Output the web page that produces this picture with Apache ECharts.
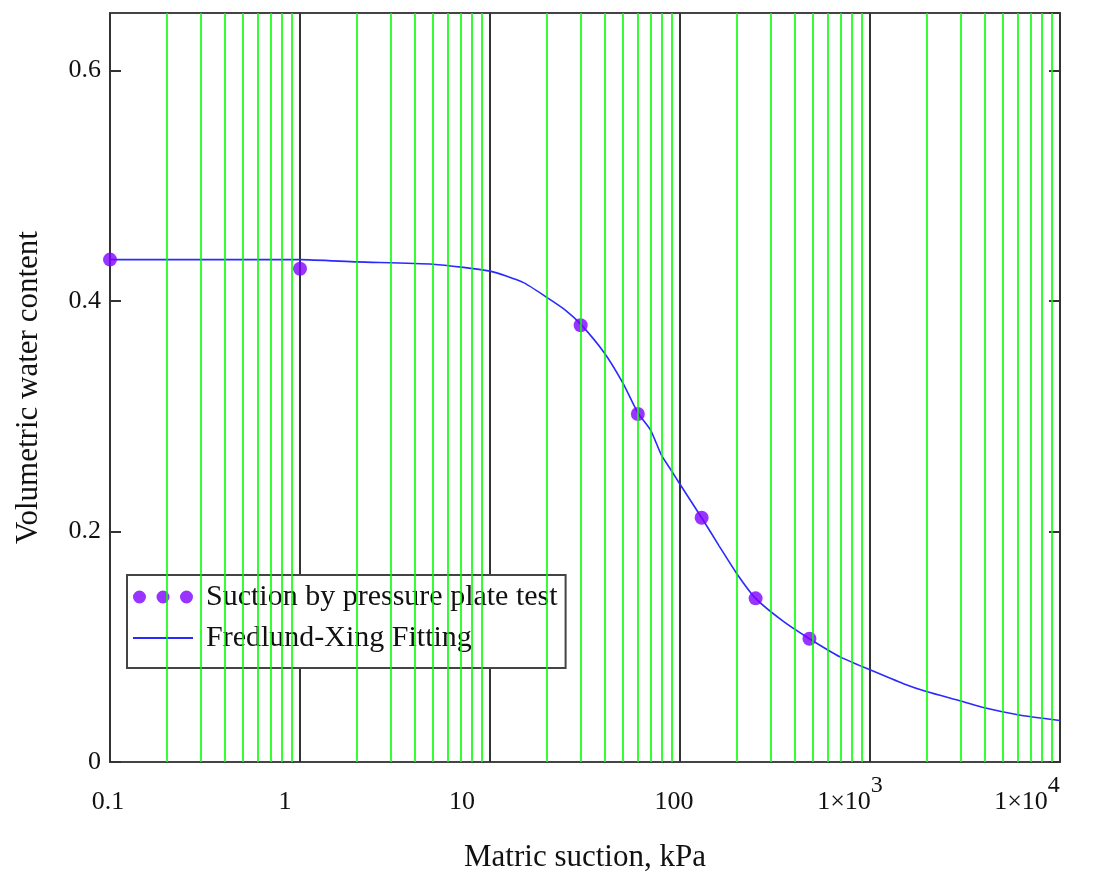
<!DOCTYPE html>
<html>
<head>
<meta charset="utf-8">
<script src="https://cdn.jsdelivr.net/npm/echarts@6/dist/echarts.min.js"></script>
<style>
  html, body { margin: 0; padding: 0; background: #fff; }
  #chart { width: 1107px; height: 871px; }
</style>
</head>
<body>
<div id="chart"></div>
<script>
// measured points (pressure plate test)
var measuredSuction = [0.1, 1, 30, 60, 130, 250, 480];
var measuredWater = [0.436, 0.428, 0.379, 0.302, 0.212, 0.142, 0.107];

// fitted curve
var curveSuction = [0.1, 0.5, 1, 2, 5, 10, 15, 20, 25, 30, 40, 50, 60, 70, 80, 90, 100, 130, 160, 200, 250, 350, 480, 700, 1000, 1500, 2000, 3000, 4000, 6000, 10000];
var curveWater = [0.436, 0.436, 0.436, 0.434, 0.432, 0.426, 0.416, 0.403, 0.392, 0.380, 0.355, 0.329, 0.303, 0.288, 0.266, 0.253, 0.241, 0.212, 0.188, 0.163, 0.142, 0.122, 0.107, 0.091, 0.080, 0.068, 0.061, 0.053, 0.047, 0.041, 0.036];

// tick labels for the log axis, one per decade from 0.1
var xTickLabels = ['0.1', '1', '10', '100', '1×10', '1×10'];
var xTickPowers = ['', '', '', '', '3', '4'];
var decades = [0.1, 1, 10, 100, 1000];
var minorSteps = [2, 3, 4, 5, 6, 7, 8, 9];

// the original labels sit a little left of their ticks
var labelShift = [-2, -15, -28, -6, -20, -33];

var serif = 'Liberation Serif';

var minorLines = [];
decades.forEach(function (d) {
    minorSteps.forEach(function (m) {
        minorLines.push({ xAxis: +(d * m).toPrecision(3) });
    });
});

function pairs(xs, ys) {
    return xs.map(function (x, i) { return [x, ys[i]]; });
}

// same line height for every label so superscripts do not push the base text down
var xRich = {};
labelShift.forEach(function (s, i) {
    xRich['p' + i] = { fontFamily: serif, fontSize: 26, color: '#111', lineHeight: 56, padding: [0, -2 * s, 0, 0] };
    xRich['b' + i] = { fontFamily: serif, fontSize: 26, color: '#111', lineHeight: 56 };
    xRich['s' + i] = { fontFamily: serif, fontSize: 24, color: '#111', lineHeight: 24, verticalAlign: 'top', padding: [0, -2 * s, 0, 0] };
});

var chart = echarts.init(document.getElementById('chart'));

var option = {
    backgroundColor: '#fff',
    animation: false,
    grid: {
        left: 110, right: 47, top: 13, bottom: 109,
        outerBoundsMode: 'none',
        show: true,
        borderColor: '#444',
        borderWidth: 2
    },
    legend: {
        orient: 'vertical',
        left: 127,
        top: 575,
        padding: [7, 8, 15, 5],
        itemGap: 11,
        itemWidth: 60,
        itemHeight: 13,
        backgroundColor: '#fff',
        borderColor: '#444',
        borderWidth: 2,
        textStyle: { fontFamily: serif, fontSize: 30, color: '#111', padding: [0, 0, 0, 8] },
        data: [
            { name: 'Suction by pressure plate test',
              icon: 'path://M0,6.5A6.5,6.5 0 1,0 13,6.5A6.5,6.5 0 1,0 0,6.5ZM23.5,6.5A6.5,6.5 0 1,0 36.5,6.5A6.5,6.5 0 1,0 23.5,6.5ZM47,6.5A6.5,6.5 0 1,0 60,6.5A6.5,6.5 0 1,0 47,6.5Z' },
            { name: 'Fredlund-Xing Fitting', itemStyle: { opacity: 0 } }
        ]
    },
    xAxis: {
        type: 'log',
        logBase: 10,
        min: 0.1,
        max: 10000,
        name: 'Matric suction, kPa',
        nameLocation: 'middle',
        nameGap: 80,
        nameTextStyle: { fontFamily: serif, fontSize: 31, color: '#111' },
        axisLine: { show: false },
        axisTick: { show: false },
        axisLabel: {
            margin: 12,
            fontFamily: serif,
            fontSize: 26,
            color: '#111',
            formatter: function (v) {
                var i = Math.round(Math.log10(v)) + 1;
                if (xTickPowers[i]) {
                    return '{b' + i + '|' + xTickLabels[i] + '}{s' + i + '|' + xTickPowers[i] + '}';
                }
                return '{p' + i + '|' + xTickLabels[i] + '}';
            },
            rich: xRich
        },
        splitLine: { show: true, lineStyle: { color: '#333', width: 2 } }
    },
    yAxis: [
        {
            type: 'value',
            min: 0,
            max: 0.65,
            interval: 0.2,
            name: 'Volumetric water content',
            nameLocation: 'middle',
            nameGap: 66,
            nameTextStyle: { fontFamily: serif, fontSize: 31, color: '#111' },
            axisLine: { show: false },
            axisTick: { show: true, inside: true, length: 11, lineStyle: { color: '#333', width: 2 } },
            axisLabel: {
                margin: 9,
                showMaxLabel: false,
                fontFamily: serif,
                fontSize: 26,
                color: '#111'
            },
            splitLine: { show: false }
        },
        {
            type: 'value',
            position: 'right',
            min: 0,
            max: 0.65,
            interval: 0.2,
            axisLine: { show: false },
            axisTick: { show: true, inside: true, length: 11, lineStyle: { color: '#333', width: 2 } },
            axisLabel: { show: false },
            splitLine: { show: false }
        }
    ],
    series: [
        {
            name: 'minor grid',
            type: 'line',
            data: [],
            z: 1,
            silent: true,
            markLine: {
                silent: true,
                symbol: 'none',
                label: { show: false },
                lineStyle: { color: '#00ff00', width: 1.6, type: 'solid' },
                data: minorLines
            }
        },
        {
            name: 'Fredlund-Xing Fitting',
            type: 'line',
            data: pairs(curveSuction, curveWater),
            showSymbol: false,
            symbol: 'none',
            smooth: 0.2,
            z: 3,
            lineStyle: { color: '#2a2aff', width: 1.6 },
            itemStyle: { color: '#2a2aff' }
        },
        {
            name: 'Suction by pressure plate test',
            type: 'scatter',
            data: pairs(measuredSuction, measuredWater),
            symbol: 'circle',
            symbolSize: 14,
            z: 4,
            itemStyle: { color: '#8000ff' }
        }
    ]
};

chart.setOption(option);

window.addEventListener('resize', function () {
    chart.resize();
});
</script>
</body>
</html>
